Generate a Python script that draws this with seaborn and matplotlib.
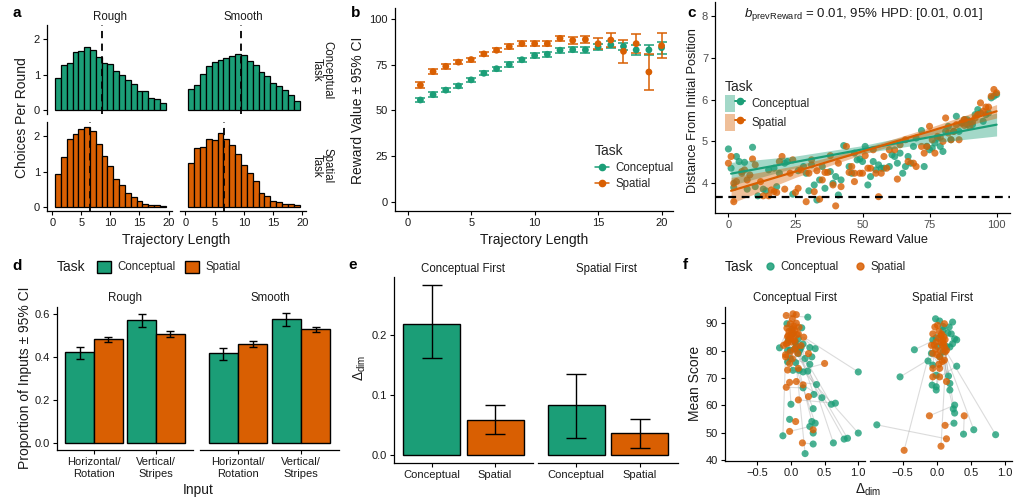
import numpy as np
import pandas as pd
import matplotlib
matplotlib.use("Agg")
import matplotlib.pyplot as plt
import seaborn as sns
from matplotlib.patches import Patch
from matplotlib.lines import Line2D
from matplotlib.legend_handler import HandlerTuple

# ---------------- data ----------------
tasks = ["Conceptual", "Spatial"]
COLORS = {"Conceptual": "#1B9E77", "Spatial": "#D95F02"}

# (a) choices per round by trajectory length
traj_bins = list(range(1, 20))
a_rough_conc = [0.91, 1.26, 1.33, 1.64, 1.68, 1.77, 1.70, 1.50, 1.33, 1.31, 1.09, 1.00, 0.84, 0.73, 0.53, 0.54, 0.35, 0.30, 0.21]
a_smooth_conc = [0.60, 0.71, 1.03, 1.23, 1.36, 1.41, 1.48, 1.52, 1.59, 1.56, 1.39, 1.26, 1.07, 0.97, 0.77, 0.69, 0.56, 0.42, 0.25]
a_rough_spat = [0.92, 1.42, 1.91, 2.06, 2.20, 2.25, 2.14, 1.79, 1.44, 1.17, 0.80, 0.61, 0.41, 0.28, 0.16, 0.09, 0.06, 0.06, 0.04]
a_smooth_spat = [1.24, 1.66, 1.70, 1.93, 1.88, 2.09, 1.93, 1.74, 1.49, 1.19, 0.96, 0.74, 0.41, 0.31, 0.17, 0.14, 0.09, 0.08, 0.06]
a_mean_len = {("Conceptual", "Rough"): 8.5, ("Conceptual", "Smooth"): 9.57,
              ("Spatial", "Rough"): 6.5, ("Spatial", "Smooth"): 6.67}

# (b) reward value by trajectory length
b_len = list(range(1, 21))
b_conc_mean = [55.7, 58.6, 61.1, 63.4, 66.7, 70.3, 72.8, 75.1, 77.7, 80.0, 80.7, 82.9, 83.2, 83.1, 84.7, 85.9, 85.0, 83.1, 83.1, 84.3]
b_conc_err = [1.2, 1.2, 1.2, 1.2, 1.2, 1.2, 1.2, 1.2, 1.2, 1.2, 1.3, 1.3, 1.4, 1.5, 1.6, 1.8, 2.0, 2.6, 2.9, 3.2]
b_spat_mean = [63.8, 71.2, 74.1, 76.4, 77.8, 80.9, 82.9, 84.9, 86.5, 86.5, 86.5, 89.4, 88.3, 88.8, 86.5, 88.5, 82.3, 86.5, 71.0, 85.4]
b_spat_err = [1.5, 1.4, 1.2, 1.1, 1.1, 1.1, 1.1, 1.2, 1.2, 1.3, 1.4, 1.5, 1.8, 2.0, 3.0, 3.8, 6.2, 5.2, 9.7, 7.0]

# (c) distance from initial position vs previous reward
c_conc_x = [0, 1, 2, 3, 4, 6, 7, 9, 10, 11, 13, 14, 15, 17, 18, 19, 21, 22, 24, 26, 28, 29, 30, 31, 32, 33,
            34, 35, 36, 38, 39, 40, 41, 42, 43, 45, 46, 47, 48, 49, 50, 51, 52, 53, 54, 55, 56, 57, 58, 60,
            61, 62, 63, 64, 65, 66, 67, 68, 69, 70, 72, 73, 74, 75, 76, 77, 78, 79, 80, 81, 82, 83, 84, 85,
            86, 87, 88, 89, 90, 91, 92, 93, 94, 95, 96, 97, 98, 99, 100]
c_conc_y = [4.82, 4.36, 3.90, 4.64, 4.52, 4.50, 3.86, 4.86, 3.92, 3.70, 3.86, 3.82, 4.32, 4.36, 3.92, 4.24, 4.48,
            4.52, 3.74, 4.30, 4.40, 4.24, 3.82, 4.44, 3.96, 3.60, 4.08, 4.40, 3.88, 4.28, 4.00, 4.16, 3.72,
            4.08, 4.90, 4.40, 4.24, 4.72, 4.56, 4.58, 4.52, 4.88, 3.96, 4.16, 4.52, 4.32, 4.44, 4.36, 4.36,
            4.40, 4.68, 4.64, 4.48, 4.72, 4.24, 4.40, 4.64, 4.48, 4.88, 5.08, 5.26, 4.40, 4.88, 4.80, 4.84,
            4.96, 5.08, 4.88, 4.76, 5.24, 5.36, 5.04, 5.24, 5.60, 5.24, 5.44, 5.52, 5.52, 5.48, 5.40, 5.64,
            5.76, 5.68, 5.48, 5.64, 5.68, 6.04, 6.08, 6.12]
c_spat_x = [0, 1, 2, 2, 3, 5, 5, 6, 7, 8, 9, 10, 12, 13, 15, 16, 17, 18, 19, 20, 21, 23, 24, 25, 26, 27, 29,
            30, 31, 32, 33, 34, 35, 36, 37, 38, 39, 40, 41, 42, 44, 45, 46, 47, 47, 49, 50, 51, 52, 53, 54,
            55, 56, 57, 58, 59, 60, 62, 63, 64, 66, 67, 69, 70, 72, 73, 74, 75, 76, 77, 78, 79, 80, 81, 82,
            83, 84, 85, 86, 87, 88, 88, 89, 90, 91, 92, 93, 94, 95, 96, 97, 98, 99, 100]
c_spat_y = [4.48, 4.64, 3.56, 4.00, 4.04, 4.24, 4.28, 4.32, 4.08, 4.20, 4.58, 4.44, 4.04, 3.70, 3.70, 3.84,
            3.80, 3.78, 4.52, 4.64, 3.86, 4.24, 4.56, 3.78, 3.88, 4.32, 3.56, 4.24, 4.56, 3.80, 4.30, 3.62,
            4.08, 4.26, 4.26, 4.66, 3.96, 3.46, 4.48, 3.92, 4.88, 4.26, 4.40, 4.24, 4.04, 4.24, 4.24, 4.66,
            4.36, 4.36, 4.80, 4.24, 3.68, 4.24, 4.64, 4.36, 4.80, 4.80, 4.10, 4.92, 5.04, 4.52, 4.48, 4.40,
            4.88, 4.72, 4.88, 5.36, 5.04, 4.72, 5.12, 5.10, 5.00, 5.56, 5.20, 5.04, 5.24, 5.40, 5.04, 5.44,
            5.38, 5.52, 5.40, 5.36, 5.46, 5.56, 5.64, 5.92, 5.72, 5.82, 5.82, 6.08, 6.24, 6.16]
c_fit_x = [1, 25, 50, 75, 100]
c_conc_fit = [4.23, 4.51, 4.81, 5.10, 5.40]
c_conc_lo = [3.95, 4.37, 4.72, 4.96, 5.13]
c_conc_hi = [4.50, 4.65, 4.90, 5.24, 5.68]
c_spat_fit = [3.82, 4.28, 4.76, 5.24, 5.72]
c_spat_lo = [3.52, 4.14, 4.69, 5.15, 5.56]
c_spat_hi = [4.14, 4.42, 4.83, 5.33, 5.88]
c_chance = 3.68

# (d) proportion of inputs
d_smooth = ["Rough", "Rough", "Rough", "Rough", "Smooth", "Smooth", "Smooth", "Smooth"]
d_input = ["Horizontal/\nRotation", "Horizontal/\nRotation", "Vertical/\nStripes", "Vertical/\nStripes"] * 2
d_task = ["Conceptual", "Spatial"] * 4
d_mean = [0.423, 0.485, 0.572, 0.509, 0.419, 0.462, 0.577, 0.530]
d_lo = [0.394, 0.473, 0.543, 0.496, 0.388, 0.450, 0.546, 0.518]
d_hi = [0.447, 0.496, 0.600, 0.521, 0.445, 0.478, 0.605, 0.543]

# (e) Delta_dim by order
e_order = ["Conceptual First", "Conceptual First", "Spatial First", "Spatial First"]
e_task = ["Conceptual", "Spatial", "Conceptual", "Spatial"]
e_mean = [0.217, 0.058, 0.083, 0.036]
e_lo = [0.161, 0.034, 0.028, 0.011]
e_hi = [0.282, 0.083, 0.134, 0.060]

# (f) mean score vs Delta_dim, paired per participant
f_cf_conc_dx = [0.25, -0.06, 0.01, 0.16, -0.17, -0.05, 0.06, 0.15, 0.28, 0.36, 0.11, 0.31, -0.01, 0.21, -0.05,
                0.07, 0.28, 0.03, 0.12, 0.18, 0.25, 1.00, 0.38, 0.18, 0.34, 0.46, 0.00, 0.60, 0.66, 0.33,
                -0.02, 0.31, 0.36, 0.28, 0.33, -0.12, 0.79, 0.84, 1.00, 0.63, 0.33, 0.21, 0.03, 0.11, 0.06,
                0.18, -0.04, 0.08, 0.13, -0.01]
f_cf_conc_sc = [92.2, 89.8, 87.7, 88.3, 81.0, 80.1, 80.7, 81.1, 81.1, 80.7, 78.9, 77.7, 77.1, 77.1, 75.9,
                75.6, 75.0, 72.8, 72.8, 72.2, 72.5, 72.2, 67.6, 66.4, 64.0, 62.8, 60.4, 60.4, 60.8, 58.8,
                54.9, 54.1, 53.5, 52.3, 49.9, 48.9, 47.7, 48.0, 49.9, 46.3, 45.9, 42.4, 86.1, 84.3, 83.1,
                82.4, 83.7, 81.9, 80.1, 80.1]
f_cf_spat_dx = [-0.07, 0.03, 0.08, 0.02, -0.01, 0.08, -0.06, 0.03, -0.04, 0.11, -0.07, 0.01, 0.08, -0.11,
                -0.01, 0.26, -0.08, -0.02, 0.50, -0.05, 0.11, 0.19, 0.08, -0.07, 0.03, 0.18, -0.02, 0.06,
                0.11, 0.26, 0.07, 0.00, -0.05, -0.02, 0.33, -0.08, 0.05, 0.10, 0.02, 0.15, 0.17, 0.04, -0.03,
                0.04, 0.09, -0.02, 0.12, 0.01, 0.06, -0.05]
f_cf_spat_sc = [92.8, 93.4, 93.1, 91.6, 89.8, 90.0, 88.2, 88.0, 85.5, 86.1, 82.5, 83.1, 81.3, 81.9, 79.5,
                78.9, 77.7, 75.3, 75.3, 72.9, 73.5, 84.9, 68.7, 66.6, 86.1, 67.5, 68.4, 83.5, 62.0, 63.2,
                54.1, 85.0, 82.8, 50.5, 51.1, 78.5, 80.5, 79.0, 77.0, 81.8, 46.3, 84.0, 87.0, 89.0, 85.8,
                84.5, 88.5, 86.5, 87.5, 85.0]
f_sf_conc_dx = [-0.02, 0.04, 0.09, 0.18, 0.23, 0.09, 0.16, 0.21, -0.01, 0.26, 0.29, 0.23, 0.19, -0.33, 0.09,
                -0.13, -0.06, 0.29, -0.54, -0.01, 0.17, 0.19, -0.07, -0.01, -0.01, 0.19, 0.26, 0.24, 0.26,
                0.25, 0.54, 0.39, 0.86, -0.88, -0.06, 0.14, 0.04, -0.08, 0.01]
f_sf_conc_sc = [91.6, 90.8, 88.8, 88.6, 90.4, 87.4, 86.4, 86.1, 84.7, 84.3, 83.9, 82.5, 81.3, 80.3, 79.5,
                76.2, 74.7, 74.3, 70.4, 71.0, 70.7, 68.0, 67.4, 66.8, 65.6, 65.6, 60.1, 58.7, 57.2, 53.5,
                51.1, 49.5, 49.3, 52.9, 83.9, 81.5, 77.8, 79.0, 81.5]
f_sf_spat_dx = [-0.03, 0.01, 0.11, -0.06, 0.06, 0.09, -0.01, -0.08, 0.11, 0.14, -0.06, 0.04, 0.11, 0.02,
                -0.06, 0.04, -0.06, 0.04, 0.00, 0.14, 0.10, 0.05, -0.04, 0.07, 0.12, 0.03, -0.11, 0.08, 0.12,
                0.12, 0.06, 0.40, 0.08, 0.14, -0.48, 0.06, -0.02, 0.03, 0.10]
f_sf_spat_sc = [88.6, 89.2, 89.8, 86.1, 85.5, 83.7, 83.1, 81.9, 81.3, 80.1, 79.0, 77.7, 76.5, 84.5, 73.5,
                73.5, 70.4, 70.4, 78.5, 68.7, 82.5, 80.0, 82.0, 86.0, 84.0, 87.0, 56.2, 76.0, 79.5, 52.7,
                83.0, 56.2, 82.0, 47.8, 43.6, 45.1, 80.5, 75.0, 85.0]

# ---------------- style ----------------
sns.set_theme(style="ticks")
plt.rcParams["font.family"] = ["Liberation Sans", "DejaVu Sans"]
plt.rcParams["mathtext.fontset"] = "custom"
plt.rcParams["mathtext.rm"] = "Liberation Sans"
plt.rcParams["mathtext.it"] = "Liberation Sans:italic"
plt.rcParams["axes.unicode_minus"] = True

TICK = 8
STRIP = 8.3
LAB = 10
LABC = 9.2
LEG = 8.3
LEGT = 10
LET = 11
TXT = "#1a1a1a"

W, H = 1026, 499
fig = plt.figure(figsize=(W / 100, H / 100), dpi=100)


def add_ax(x0, y0, x1, y1):
    return fig.add_axes([x0 / W, 1 - y1 / H, (x1 - x0) / W, (y1 - y0) / H])


def ftext(x, y, s, **kw):
    kw.setdefault("ha", "center")
    kw.setdefault("va", "center")
    kw.setdefault("color", TXT)
    return fig.text(x / W, 1 - y / H, s, **kw)


def style(ax, left=True, bottom=True, tickcolor=TXT):
    sns.despine(ax=ax)
    for sp in ["left", "bottom"]:
        ax.spines[sp].set_linewidth(0.9)
        ax.spines[sp].set_color("black")
    ax.tick_params(length=3, width=0.8, labelsize=TICK, color="black", labelcolor=tickcolor, pad=2)
    if not left:
        ax.spines["left"].set_visible(False)
        ax.tick_params(axis="y", left=False, labelleft=False)
    if not bottom:
        ax.spines["bottom"].set_visible(False)
        ax.tick_params(axis="x", bottom=False, labelbottom=False)
    ax.set_xlabel("")
    ax.set_ylabel("")


def bar_errors(ax, means, los, his, capsize):
    means = np.asarray(means)
    for p in ax.patches:
        h = p.get_height()
        if not np.isfinite(h) or h == 0:
            continue
        i = int(np.argmin(np.abs(means - h)))
        ax.errorbar(p.get_x() + p.get_width() / 2, h,
                    yerr=[[h - los[i]], [his[i] - h]], fmt="none", ecolor="black",
                    elinewidth=1.0, capthick=1.0, capsize=capsize, zorder=5)


# ---------------- (a) ----------------
a_vals = {("Conceptual", "Rough"): a_rough_conc, ("Conceptual", "Smooth"): a_smooth_conc,
          ("Spatial", "Rough"): a_rough_spat, ("Spatial", "Smooth"): a_smooth_spat}
a_pos = {("Conceptual", "Rough"): (47, 25, 172, 114), ("Conceptual", "Smooth"): (180, 25, 306, 114),
         ("Spatial", "Rough"): (47, 122, 172, 211), ("Spatial", "Smooth"): (180, 122, 306, 211)}
for key, vals in a_vals.items():
    task, sm = key
    ax = add_ax(*a_pos[key])
    hdf = pd.DataFrame({"len": traj_bins, "w": vals})
    sns.histplot(data=hdf, x="len", weights="w", discrete=True, color=COLORS[task],
                 alpha=1, edgecolor="black", linewidth=0.9, ax=ax)
    ax.axvline(a_mean_len[key], color="black", ls=(0, (4, 3)), lw=1.3)
    ax.set_xlim(-0.9, 20.6)
    ax.set_ylim(-0.11, 2.4)
    ax.set_xticks([0, 5, 10, 15, 20])
    ax.set_yticks([0, 1, 2])
    style(ax, left=(sm == "Rough"), bottom=(task == "Spatial"))
ftext(110, 17, "Rough", fontsize=STRIP)
ftext(243, 17, "Smooth", fontsize=STRIP)
ftext(322, 70, "Conceptual\nTask", fontsize=STRIP, rotation=-90, linespacing=0.95)
ftext(322, 166, "Spatial\nTask", fontsize=STRIP, rotation=-90, linespacing=0.95)
ftext(22, 118, "Choices Per Round", fontsize=LAB, rotation=90)
ftext(176, 240, "Trajectory Length", fontsize=LAB)

# ---------------- (b) ----------------
axb = add_ax(395, 8, 673, 211)
b_df = pd.DataFrame({"len": b_len * 2, "reward": b_conc_mean + b_spat_mean,
                     "err": b_conc_err + b_spat_err,
                     "task": ["Conceptual"] * len(b_len) + ["Spatial"] * len(b_len)})
for t in tasks:
    sub = b_df[b_df.task == t]
    axb.errorbar(sub["len"], sub["reward"], yerr=sub["err"], fmt="none", ecolor=COLORS[t],
                 elinewidth=1.1, capthick=1.1, capsize=3.8, zorder=2)
sns.scatterplot(data=b_df, x="len", y="reward", hue="task", palette=COLORS, hue_order=tasks,
                s=24, linewidth=0, ax=axb, legend=False, zorder=3)
axb.set_xlim(-1.0, 20.9)
axb.set_ylim(-5, 106)
axb.set_xticks([0, 5, 10, 15, 20])
axb.set_yticks([0, 25, 50, 75, 100])
style(axb)
hb = [Line2D([0], [0], color=COLORS[t], marker="o", ms=4.5, lw=1.1) for t in tasks]
lg = axb.legend(hb, tasks, title="Task", loc="upper left", bbox_to_anchor=(589 / W, 1 - 138 / H),
                bbox_transform=fig.transFigure, frameon=False, fontsize=LEG, title_fontsize=LEGT,
                handlelength=1.2, handletextpad=0.6, labelspacing=0.35, borderpad=0, alignment="left")
ftext(358, 110, "Reward Value ± 95% CI", fontsize=LAB, rotation=90)
ftext(534, 240, "Trajectory Length", fontsize=LAB)

# ---------------- (c) ----------------
axc = add_ax(715, 2, 1010, 213)
c_pts = pd.DataFrame({"x": c_conc_x + c_spat_x, "y": c_conc_y + c_spat_y,
                      "task": ["Conceptual"] * len(c_conc_x) + ["Spatial"] * len(c_spat_x)})
sns.scatterplot(data=c_pts, x="x", y="y", hue="task", palette=COLORS, hue_order=tasks,
                s=26, alpha=0.8, linewidth=0, ax=axc, legend=False, zorder=2)
c_fit = pd.DataFrame({"x": c_fit_x * 2, "fit": c_conc_fit + c_spat_fit,
                      "lo": c_conc_lo + c_spat_lo, "hi": c_conc_hi + c_spat_hi,
                      "task": ["Conceptual"] * len(c_fit_x) + ["Spatial"] * len(c_fit_x)})
for t in tasks:
    sub = c_fit[c_fit.task == t]
    axc.fill_between(sub["x"], sub["lo"], sub["hi"], color=COLORS[t], alpha=0.4, lw=0, zorder=3)
sns.lineplot(data=c_fit, x="x", y="fit", hue="task", palette=COLORS, hue_order=tasks, lw=1.6,
             ax=axc, legend=False, zorder=4)
axc.axhline(c_chance, color="black", ls=(0, (3.5, 2.5)), lw=1.6, zorder=5)
axc.set_xlim(-5, 105)
axc.set_ylim(3.29, 8.33)
axc.set_xticks([0, 25, 50, 75, 100])
axc.set_yticks([4, 5, 6, 7, 8])
style(axc, tickcolor="#4d4d4d")
hc = [(Patch(facecolor=COLORS[t], alpha=0.4, lw=0), Line2D([0], [0], color=COLORS[t], marker="o", ms=4.5, lw=1.4))
      for t in tasks]
axc.legend(hc, tasks, title="Task", loc="upper left", bbox_to_anchor=(719 / W, 1 - 74 / H),
           bbox_transform=fig.transFigure, frameon=False, fontsize=LEG, title_fontsize=LEGT,
           handlelength=1.75, handleheight=1.9, handletextpad=0.6, labelspacing=0.12, borderpad=0,
           alignment="left", handler_map={tuple: HandlerTuple(ndivide=None)})
ftext(863, 15, r"$b_{\mathrm{prevReward}}$ = 0.01, 95% HPD: [0.01, 0.01]", fontsize=9.5)
ftext(693, 111, "Distance From Initial Position", fontsize=LABC, rotation=90)
ftext(862, 240, "Previous Reward Value", fontsize=LABC)

# ---------------- (d) ----------------
d_df = pd.DataFrame({"smooth": d_smooth, "input": d_input, "task": d_task,
                     "mean": d_mean, "lo": d_lo, "hi": d_hi})
d_pos = {"Rough": (57, 307, 193, 450), "Smooth": (200, 307, 339, 450)}
d_strip = {"Rough": 125, "Smooth": 270}
for sm, pos in d_pos.items():
    ax = add_ax(*pos)
    sub = d_df[d_df.smooth == sm].reset_index(drop=True)
    sns.barplot(data=sub, x="input", y="mean", hue="task", palette=COLORS, hue_order=tasks,
                width=0.93, saturation=1, edgecolor="black", linewidth=1.0, errorbar=None,
                legend=False, ax=ax)
    bar_errors(ax, sub["mean"].values, sub["lo"].values, sub["hi"].values, capsize=2.6)
    ax.set_xlim(-0.6, 1.6)
    ax.set_ylim(-0.031, 0.634)
    ax.set_yticks([0.0, 0.2, 0.4, 0.6])
    ax.set_yticklabels(["0.0", "0.2", "0.4", "0.6"])
    style(ax, left=(sm == "Rough"))
    ftext(d_strip[sm], 298, sm, fontsize=STRIP)
ftext(57, 267, "Task", fontsize=LEGT, ha="left")
hd = [Patch(facecolor=COLORS[t], edgecolor="black", lw=1.0) for t in tasks]
fig.legend(hd, tasks, loc="center left", bbox_to_anchor=(91 / W, 1 - 267 / H), ncol=2, frameon=False,
           fontsize=LEG, handlelength=1.25, handleheight=1.25, handletextpad=0.55, columnspacing=0.8,
           borderpad=0)
ftext(25, 378, "Proportion of Inputs ± 95% CI", fontsize=LAB, rotation=90)
ftext(198, 490, "Input", fontsize=LAB)

# ---------------- (e) ----------------
e_df = pd.DataFrame({"order": e_order, "task": e_task, "mean": e_mean, "lo": e_lo, "hi": e_hi})
e_pos = {"Conceptual First": (394, 277, 533, 463), "Spatial First": (538, 277, 678, 463)}
e_strip = {"Conceptual First": 463, "Spatial First": 607}
for od, pos in e_pos.items():
    ax = add_ax(*pos)
    sub = e_df[e_df.order == od].reset_index(drop=True)
    sns.barplot(data=sub, x="task", y="mean", hue="task", palette=COLORS, hue_order=tasks, order=tasks,
                dodge=False, width=0.9, saturation=1, edgecolor="black", linewidth=1.0, errorbar=None,
                legend=False, ax=ax)
    bar_errors(ax, sub["mean"].values, sub["lo"].values, sub["hi"].values, capsize=7.0)
    ax.set_xlim(-0.6, 1.6)
    ax.set_ylim(-0.014, 0.296)
    ax.set_yticks([0.0, 0.1, 0.2])
    ax.set_yticklabels(["0.0", "0.1", "0.2"])
    style(ax, left=(od == "Conceptual First"))
    ftext(e_strip[od], 269, od, fontsize=STRIP)
ftext(360, 368, r"$\Delta_{\mathrm{dim}}$", fontsize=LAB, rotation=90)

# ---------------- (f) ----------------
f_sets = {"Conceptual First": (f_cf_conc_dx, f_cf_conc_sc, f_cf_spat_dx, f_cf_spat_sc),
          "Spatial First": (f_sf_conc_dx, f_sf_conc_sc, f_sf_spat_dx, f_sf_spat_sc)}
f_pos = {"Conceptual First": (725, 307, 865, 461), "Spatial First": (870, 307, 1012, 461)}
f_strip = {"Conceptual First": 795, "Spatial First": 942}
for od, (cdx, csc, sdx, ssc) in f_sets.items():
    ax = add_ax(*f_pos[od])
    n = len(cdx)
    df = pd.DataFrame({"pid": list(range(n)) * 2, "dx": cdx + sdx, "score": csc + ssc,
                       "task": ["Conceptual"] * n + ["Spatial"] * n})
    sns.lineplot(data=df, x="dx", y="score", units="pid", estimator=None, sort=False,
                 color="#9a9a9a", alpha=0.35, lw=0.8, ax=ax, legend=False, zorder=1)
    sns.scatterplot(data=df, x="dx", y="score", hue="task", palette=COLORS, hue_order=tasks,
                    s=26, alpha=0.8, linewidth=0, ax=ax, legend=False, zorder=2)
    ax.set_xlim(-0.98, 1.1)
    ax.set_ylim(39.7, 95.9)
    ax.set_xticks([-0.5, 0.0, 0.5, 1.0])
    ax.set_xticklabels(["\u22120.5", "0.0", "0.5", "1.0"])
    ax.set_yticks([40, 50, 60, 70, 80, 90])
    style(ax, left=(od == "Conceptual First"))
    ftext(f_strip[od], 298, od, fontsize=STRIP)
ftext(725, 267, "Task", fontsize=LEGT, ha="left")
hf = [Line2D([0], [0], color=COLORS[t], marker="o", ms=5, lw=0, alpha=0.85) for t in tasks]
fig.legend(hf, tasks, loc="center left", bbox_to_anchor=(757 / W, 1 - 267 / H), ncol=2, frameon=False,
           fontsize=LEG, handlelength=1.2, handletextpad=0.35, columnspacing=1.2, borderpad=0)
ftext(695, 383, "Mean Score", fontsize=LAB, rotation=90)
ftext(868, 490, r"$\Delta_{\mathrm{dim}}$", fontsize=LAB)

# ---------------- panel letters ----------------
for lab, (x, y) in {"a": (17, 13), "b": (356, 13), "c": (692, 13),
                    "d": (17, 266), "e": (353, 265), "f": (685, 265)}.items():
    ftext(x, y, lab, fontsize=LET, fontweight="bold", color="black")

fig.savefig("out.png", dpi=100)
